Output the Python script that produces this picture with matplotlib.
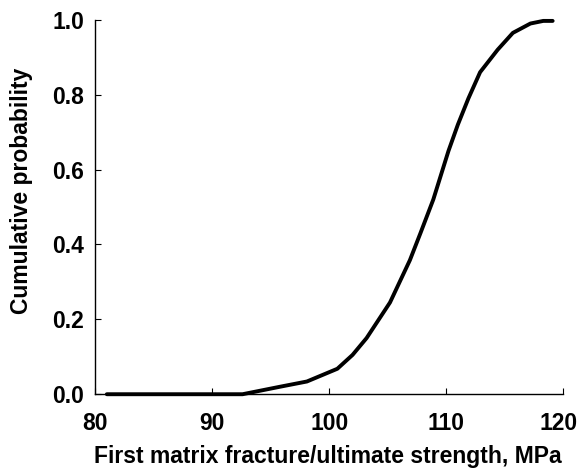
import matplotlib
matplotlib.use("Agg")
import matplotlib.pyplot as plt
from matplotlib import font_manager as fm
from matplotlib.transforms import ScaledTranslation

strength = [81.0, 85.0, 90.0, 92.6, 95.8, 98.1, 100.7, 102.0, 103.2, 105.2, 106.9, 107.8,
            108.9, 110.2, 111.0, 111.9, 112.9, 114.4, 115.7, 117.2, 118.3, 119.1]
cum_prob = [0.0, 0.0, 0.0, 0.0, 0.02, 0.034, 0.068, 0.105, 0.15, 0.245, 0.358, 0.43,
            0.52, 0.65, 0.72, 0.79, 0.86, 0.92, 0.965, 0.99, 0.997, 0.997]
xticks = [80, 90, 100, 110, 120]
yticks = [0.0, 0.2, 0.4, 0.6, 0.8, 1.0]

bold_path = None
for f in fm.fontManager.ttflist:
    if f.fname.replace('\\', '/').split('/')[-1] == 'LiberationSans-Bold.ttf':
        bold_path = f.fname
        break


def fp(size):
    if bold_path:
        return fm.FontProperties(fname=bold_path, size=size)
    return fm.FontProperties(family='DejaVu Sans', weight='bold', size=size)


fig = plt.figure(figsize=(5.8, 4.71), dpi=100)
ax = fig.add_axes([0.164, 0.163, 0.807, 0.795])
ax.plot(strength, cum_prob, color='black', lw=2.8, solid_capstyle='round',
        solid_joinstyle='round', clip_on=False)
ax.set_xlim(80, 120)
ax.set_ylim(0, 1)
ax.set_xticks(xticks)
ax.set_yticks(yticks)
ax.set_xticklabels([str(t) for t in xticks])
ax.set_yticklabels([f"{t:.1f}" for t in yticks])
for s in ['top', 'right']:
    ax.spines[s].set_visible(False)
for s in ['left', 'bottom']:
    ax.spines[s].set_linewidth(1.0)
ax.tick_params(direction='in', length=4, width=0.8)
ax.tick_params(axis='x', pad=13)
ax.tick_params(axis='y', pad=8)
for lab in ax.get_xticklabels() + ax.get_yticklabels():
    lab.set_fontproperties(fp(16.5))
last = ax.get_xticklabels()[-1]
last.set_transform(last.get_transform() + ScaledTranslation(-0.05, 0, fig.dpi_scale_trans))
ax.set_xlabel('First matrix fracture/ultimate strength, MPa', fontproperties=fp(16.5))
ax.set_ylabel('Cumulative probability', fontproperties=fp(16.5))
ax.xaxis.set_label_coords(0.498, -0.135)
ax.yaxis.set_label_coords(-0.132, 0.543)
fig.savefig('out.png', dpi=100)
